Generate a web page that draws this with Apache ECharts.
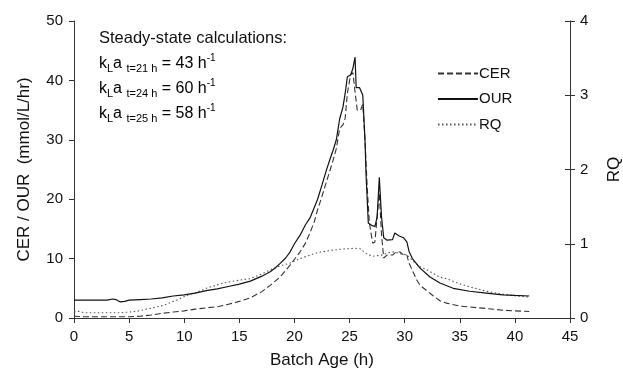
<!DOCTYPE html>
<html>
<head>
<meta charset="utf-8">
<script src="https://cdn.jsdelivr.net/npm/echarts@6/dist/echarts.min.js"></script>
<style>html,body{margin:0;padding:0;background:#fff}#c{width:623px;height:372px}</style>
</head>
<body>
<div id="c"></div>
<script>
// ---- data ----
var xTicks = [0, 5, 10, 15, 20, 25, 30, 35, 40, 45];
var leftTicks = [0, 10, 20, 30, 40, 50];
var rightTicks = [0, 1, 2, 3, 4];
var seriesNames = ['CER', 'OUR', 'RQ'];

// OUR (mmol/L/hr) vs batch age (h)
var ourData = [[0,3.0],[1,3.0],[2,3.0],[3,3.0],[3.5,3.2],[3.8,3.1],[4.2,2.7],[4.6,2.8],[5,3.0],[6,3.1],[7,3.2],[8,3.4],[9,3.7],[10,3.9],[11,4.2],[12,4.6],[13,4.9],[14,5.3],[15,5.7],[16,6.2],[17,7.0],[17.8,7.8],[18.3,8.5],[18.7,9.2],[19.2,10.1],[19.6,11.1],[20,12.5],[20.5,13.9],[21,15.7],[21.4,16.8],[21.8,18.6],[22.1,20.0],[22.5,22.4],[22.9,24.9],[23.2,26.6],[23.5,28.2],[23.8,30.0],[24.1,33.5],[24.4,35.5],[24.6,37.8],[24.8,40.6],[25.1,40.9],[25.3,42.0],[25.5,43.9],[25.6,38.8],[25.9,38.8],[26.2,37.5],[26.4,30],[26.5,24],[26.7,16],[27.0,15.6],[27.3,15.4],[27.5,17],[27.7,23.7],[27.9,17],[28.1,13.5],[28.4,13.1],[28.9,13.2],[29.1,14.3],[29.5,13.8],[29.9,13.5],[30.2,12.8],[30.4,11.2],[30.7,10.0],[31.4,8.4],[32.3,6.9],[33.2,5.9],[34.4,5.0],[35.9,4.5],[37.4,4.2],[38.9,3.9],[40,3.8],[41.3,3.7]];

// CER (mmol/L/hr)
var cerData = [[0,0.3],[1,0.2],[2,0.2],[3,0.2],[4,0.2],[5,0.2],[6,0.3],[7,0.5],[8,0.8],[9,1.0],[10,1.2],[11,1.5],[12,1.7],[13,1.9],[14,2.3],[15,2.8],[16,3.4],[17,4.4],[17.8,5.5],[18.7,6.9],[19.6,8.9],[20.5,11.1],[21.0,12.6],[21.4,14.3],[21.8,16.2],[22.1,18.2],[22.5,20.5],[23,23.5],[23.5,26.5],[23.8,28.5],[24.1,31.9],[24.4,32.5],[24.6,33.6],[24.8,37.8],[25.1,41.0],[25.3,41.3],[25.5,38],[25.7,35],[26.0,35],[26.2,36],[26.4,30],[26.6,22],[26.8,16],[27.1,12.6],[27.3,12.8],[27.5,17],[27.7,21],[27.9,14],[28.1,10.1],[28.4,10.6],[28.9,10.6],[29.2,11.1],[29.6,11.1],[29.9,10.6],[30.2,10.6],[30.4,9.2],[30.6,8.4],[31.1,6.4],[31.4,5.5],[32,4.6],[32.6,3.7],[33.2,2.9],[33.8,2.5],[35,2.0],[37.4,1.6],[39,1.3],[40,1.2],[41.3,1.1]];

// RQ (right axis)
var rqData = [[0,0.08],[0.4,0.09],[1,0.07],[2,0.07],[3,0.07],[4,0.07],[5,0.08],[5.7,0.09],[6.9,0.13],[8.1,0.17],[9.3,0.24],[10.5,0.32],[11.2,0.35],[12,0.40],[13.5,0.47],[15,0.51],[16,0.53],[17,0.59],[17.8,0.65],[18.7,0.70],[19.6,0.74],[20.5,0.80],[21.3,0.84],[22.1,0.88],[23.5,0.915],[24.5,0.93],[25.5,0.94],[26,0.93],[26.5,0.87],[27.1,0.83],[27.5,0.84],[28,0.85],[28.5,0.88],[29,0.89],[29.5,0.87],[30.2,0.85],[30.8,0.76],[31.4,0.69],[32,0.65],[33.2,0.55],[33.8,0.53],[35,0.46],[35.9,0.42],[37.4,0.36],[38.9,0.32],[40,0.30],[41.3,0.28]];

var annoTitle = 'Steady-state calculations:';
var kla = [['t=21 h', '43'], ['t=24 h', '60'], ['t=25 h', '58']];

// ---- chart ----
var FONT = 'Liberation Sans, Arial, Helvetica, sans-serif';
var TXT = '#111';
var AX = '#333';
var chart = echarts.init(document.getElementById('c'), null, {renderer: 'canvas'});

var richStyle = {
  m: {fontSize: 16, fontFamily: FONT, color: TXT, lineHeight: 21},
  sub: {fontSize: 11, fontFamily: FONT, color: TXT, lineHeight: 11, verticalAlign: 'bottom'},
  sup: {fontSize: 10, fontFamily: FONT, color: TXT, lineHeight: 10, verticalAlign: 'top'}
};
var graphics = [{
  type: 'text', left: 99, top: 30,
  style: {text: annoTitle, font: '16.5px ' + FONT, fill: TXT}
}];
var rowTops = [53, 78, 103];
kla.forEach(function (r, i) {
  graphics.push({
    type: 'text', left: 99, top: rowTops[i],
    style: {
      text: '{m|k}{sub|L}{m|a }{sub|' + r[0] + '}{m| = ' + r[1] + ' h}{sup|-1}',
      rich: richStyle
    }
  });
});

var option = {
  animation: false,
  backgroundColor: '#fff',
  grid: {left: 74, right: 53, top: 21, bottom: 54, containLabel: false, outerBoundsMode: 'none'},
  legend: {
    data: seriesNames, orient: 'vertical', left: 432, top: 61,
    itemWidth: 40, itemHeight: 14, itemGap: 10.5,
    itemStyle: {opacity: 0},
    textStyle: {fontSize: 15, fontFamily: FONT, color: TXT, padding: [0,0,0,-4]}
  },
  xAxis: {
    type: 'value', min: 0, max: 45, interval: 5,
    name: 'Batch Age (h)', nameLocation: 'middle', nameGap: 34,
    nameTextStyle: {fontSize: 17, fontFamily: FONT, color: TXT},
    axisLine: {lineStyle: {color: AX, width: 1}},
    axisTick: {show: true, inside: false, length: 5, lineStyle: {color: AX}},
    axisLabel: {fontSize: 15, fontFamily: FONT, color: TXT, margin: 11,
      formatter: function (v) { return xTicks.indexOf(v) >= 0 ? String(v) : ''; }},
    splitLine: {show: false}
  },
  yAxis: [{
    type: 'value', min: 0, max: 50, interval: 10, position: 'left',
    name: 'CER / OUR  (mmol/L/hr)', nameLocation: 'middle', nameGap: 41, nameRotate: 90,
    nameTextStyle: {fontSize: 17, fontFamily: FONT, color: TXT},
    axisLine: {show: true, lineStyle: {color: AX, width: 1}},
    axisTick: {show: true, inside: false, length: 5, lineStyle: {color: AX}},
    axisLabel: {fontSize: 15, fontFamily: FONT, color: TXT, margin: 11,
      formatter: function (v) { return leftTicks.indexOf(v) >= 0 ? String(v) : ''; }},
    splitLine: {show: false}
  }, {
    type: 'value', min: 0, max: 4, interval: 1, position: 'right',
    name: 'RQ', nameLocation: 'middle', nameGap: 36, nameRotate: 90,
    nameTextStyle: {fontSize: 17, fontFamily: FONT, color: TXT},
    axisLine: {show: true, lineStyle: {color: AX, width: 1}},
    axisTick: {show: true, inside: false, length: 5, lineStyle: {color: AX}},
    axisLabel: {fontSize: 15, fontFamily: FONT, color: TXT, margin: 10,
      formatter: function (v) { return rightTicks.indexOf(v) >= 0 ? String(v) : ''; }},
    splitLine: {show: false}
  }, {
    type: 'value', min: 0, max: 4, interval: 1, position: 'right',
    axisLine: {show: false},
    axisTick: {show: true, inside: true, length: 5, lineStyle: {color: AX}},
    axisLabel: {show: false},
    splitLine: {show: false}
  }],
  series: [{
    name: 'CER', type: 'line', data: cerData, yAxisIndex: 0,
    symbol: 'none', showSymbol: false, silent: true,
    lineStyle: {color: '#333', width: 1.1, type: [6, 3]},
    itemStyle: {color: '#333'}, z: 3
  }, {
    name: 'OUR', type: 'line', data: ourData, yAxisIndex: 0,
    symbol: 'none', showSymbol: false, silent: true,
    lineStyle: {color: '#111', width: 1.2, type: 'solid'},
    itemStyle: {color: '#111'}, z: 4
  }, {
    name: 'RQ', type: 'line', data: rqData, yAxisIndex: 1,
    symbol: 'none', showSymbol: false, silent: true,
    lineStyle: {color: '#555', width: 1.1, type: [1.5, 2.5]},
    itemStyle: {color: '#555'}, z: 2
  }],
  graphic: graphics
};
chart.setOption(option);
</script>
</body>
</html>
